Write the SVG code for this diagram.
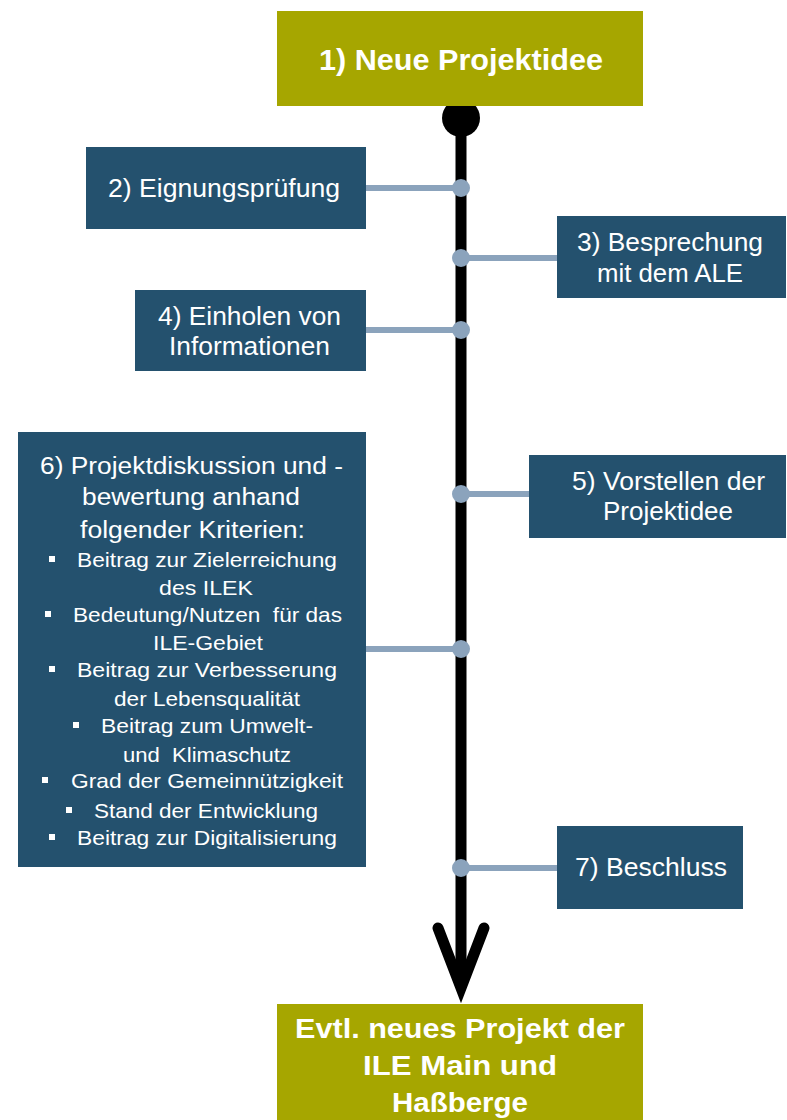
<svg xmlns="http://www.w3.org/2000/svg" width="787" height="1120" viewBox="0 0 787 1120">
<style>
.olive{fill:#A6A600}
.blue{fill:#24516E}
.tb{font-family:"Liberation Sans",Arial,sans-serif;font-weight:bold;fill:#fff}
.t{font-family:"Liberation Sans",Arial,sans-serif;fill:#fff;font-size:25px}
.t6{font-family:"Liberation Sans",Arial,sans-serif;fill:#fff;font-size:23.5px}
.ti{font-family:"Liberation Sans",Arial,sans-serif;fill:#fff;font-size:21px}
.conn{stroke:#8BA3BC;stroke-width:6;fill:none}
.dot{fill:#8BA3BC}
.bul{fill:#fff}
</style>
<rect width="787" height="1120" fill="#fff"/>
<g id="connectors">
<line x1="461" y1="118" x2="461" y2="988" stroke="#000" stroke-width="11"/>
<circle cx="461" cy="118" r="19" fill="#000"/>
<polyline points="438,928 461,988 484,928" fill="none" stroke="#000" stroke-width="11" stroke-linecap="round" stroke-linejoin="miter" stroke-miterlimit="6"/>
<line class="conn" x1="366" y1="188" x2="461" y2="188"/>
<line class="conn" x1="461" y1="258" x2="557" y2="258"/>
<line class="conn" x1="366" y1="330" x2="461" y2="330"/>
<line class="conn" x1="461" y1="494" x2="529" y2="494"/>
<line class="conn" x1="366" y1="649" x2="461" y2="649"/>
<line class="conn" x1="461" y1="868" x2="557" y2="868"/>
<circle class="dot" cx="461" cy="188" r="9"/>
<circle class="dot" cx="461" cy="258" r="9"/>
<circle class="dot" cx="461" cy="330" r="9"/>
<circle class="dot" cx="461" cy="494" r="9"/>
<circle class="dot" cx="461" cy="649" r="9"/>
<circle class="dot" cx="461" cy="868" r="9"/>
</g>
<g id="n1">
<rect class="olive" x="277" y="11" width="366" height="95"/>
<text class="tb" font-size="29" x="319" y="70" textLength="284" lengthAdjust="spacingAndGlyphs">1) Neue Projektidee</text>
</g>
<g id="n2">
<rect class="blue" x="86" y="147" width="280" height="82"/>
<text class="t" x="108" y="197" textLength="232" lengthAdjust="spacingAndGlyphs">2) Eignungsprüfung</text>
</g>
<g id="n3">
<rect class="blue" x="557" y="216" width="229" height="82"/>
<text class="t" x="577" y="251" textLength="186" lengthAdjust="spacingAndGlyphs">3) Besprechung</text>
<text class="t" x="597" y="282" textLength="146" lengthAdjust="spacingAndGlyphs">mit dem ALE</text>
</g>
<g id="n4">
<rect class="blue" x="135" y="290" width="231" height="81"/>
<text class="t" x="158" y="325" textLength="183" lengthAdjust="spacingAndGlyphs">4) Einholen von</text>
<text class="t" x="169" y="355" textLength="161" lengthAdjust="spacingAndGlyphs">Informationen</text>
</g>
<g id="n5">
<rect class="blue" x="529" y="455" width="257" height="83"/>
<text class="t" x="572" y="490" textLength="193" lengthAdjust="spacingAndGlyphs">5) Vorstellen der</text>
<text class="t" x="603" y="520" textLength="130" lengthAdjust="spacingAndGlyphs">Projektidee</text>
</g>
<g id="n6">
<rect class="blue" x="18" y="432" width="348" height="435"/>
<text class="t6" x="40" y="474" textLength="303" lengthAdjust="spacingAndGlyphs">6) Projektdiskussion und -</text>
<text class="t6" x="82" y="505" textLength="218" lengthAdjust="spacingAndGlyphs">bewertung anhand</text>
<text class="t6" x="80" y="538" textLength="225" lengthAdjust="spacingAndGlyphs">folgender Kriterien:</text>
<rect class="bul" x="49" y="556" width="6" height="6"/>
<text class="ti" x="77" y="567" textLength="260" lengthAdjust="spacingAndGlyphs">Beitrag zur Zielerreichung</text>
<text class="ti" x="159" y="595" textLength="94" lengthAdjust="spacingAndGlyphs">des ILEK</text>
<rect class="bul" x="45" y="611" width="6" height="6"/>
<text class="ti" x="73" y="622" textLength="269" lengthAdjust="spacingAndGlyphs" xml:space="preserve">Bedeutung/Nutzen  für das</text>
<text class="ti" x="153" y="650" textLength="110" lengthAdjust="spacingAndGlyphs">ILE-Gebiet</text>
<rect class="bul" x="49" y="666" width="6" height="6"/>
<text class="ti" x="77" y="677" textLength="260" lengthAdjust="spacingAndGlyphs">Beitrag zur Verbesserung</text>
<text class="ti" x="114" y="706" textLength="186" lengthAdjust="spacingAndGlyphs">der Lebensqualität</text>
<rect class="bul" x="73" y="722" width="6" height="6"/>
<text class="ti" x="101" y="733" textLength="212" lengthAdjust="spacingAndGlyphs">Beitrag zum Umwelt-</text>
<text class="ti" x="123" y="762" textLength="168" lengthAdjust="spacingAndGlyphs" xml:space="preserve">und  Klimaschutz</text>
<rect class="bul" x="42" y="777" width="6" height="6"/>
<text class="ti" x="71" y="788" textLength="272" lengthAdjust="spacingAndGlyphs">Grad der Gemeinnützigkeit</text>
<rect class="bul" x="66" y="807" width="6" height="6"/>
<text class="ti" x="94" y="818" textLength="224" lengthAdjust="spacingAndGlyphs">Stand der Entwicklung</text>
<rect class="bul" x="49" y="834" width="6" height="6"/>
<text class="ti" x="77" y="845" textLength="260" lengthAdjust="spacingAndGlyphs">Beitrag zur Digitalisierung</text>
</g>
<g id="n7">
<rect class="blue" x="557" y="826" width="186" height="83"/>
<text class="t" x="575" y="876" textLength="152" lengthAdjust="spacingAndGlyphs">7) Beschluss</text>
</g>
<g id="n8">
<rect class="olive" x="277" y="1004" width="366" height="116"/>
<text class="tb" font-size="27" x="295" y="1038" textLength="330" lengthAdjust="spacingAndGlyphs">Evtl. neues Projekt der</text>
<text class="tb" font-size="27" x="363" y="1075" textLength="194" lengthAdjust="spacingAndGlyphs">ILE Main und</text>
<text class="tb" font-size="27" x="392" y="1112" textLength="136" lengthAdjust="spacingAndGlyphs">Haßberge</text>
</g>
</svg>
